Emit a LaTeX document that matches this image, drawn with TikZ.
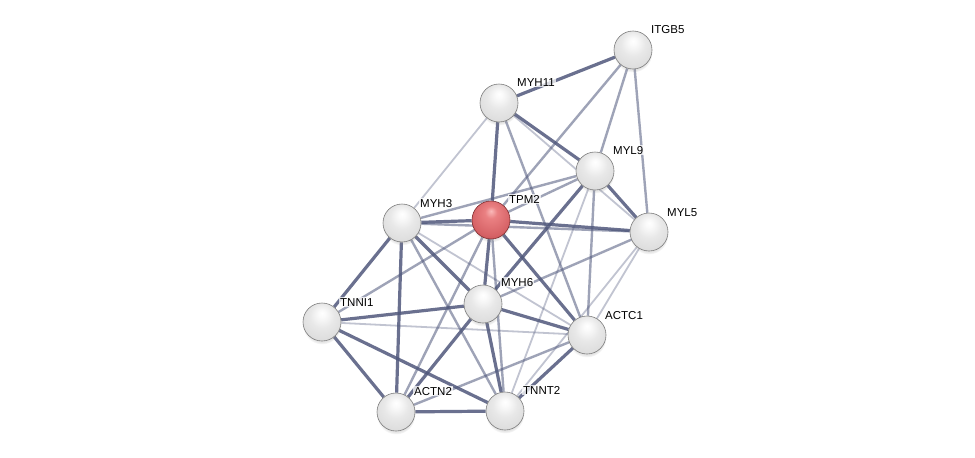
\documentclass[tikz,border=0pt]{standalone}
\usepackage{fontspec}
\setmainfont{Liberation Sans}
\usetikzlibrary{shadows}
\pgfdeclarelayer{bg}
\pgfsetlayers{bg,main}
\definecolor{edgec}{RGB}{80,88,124}
\definecolor{nodeline}{RGB}{125,125,125}
\definecolor{redA}{RGB}{250,185,185}
\definecolor{redB}{RGB}{234,128,130}
\definecolor{redC}{RGB}{214,98,102}
\definecolor{redD}{RGB}{178,64,68}
\pgfdeclareradialshading{stringball}{\pgfpoint{0bp}{12bp}}{%
  color(0bp)=(white); color(5bp)=(gray!4); color(16bp)=(gray!18);
  color(28bp)=(gray!26); color(38bp)=(gray!38); color(50bp)=(gray!58)}
\pgfdeclareradialshading{stringred}{\pgfpoint{0bp}{12bp}}{%
  color(0bp)=(redA); color(8bp)=(redB); color(26bp)=(redC);
  color(40bp)=(redD); color(50bp)=(redD!80!black)}
\tikzset{
  prot/.style={circle, minimum size=38pt, inner sep=0pt, draw=nodeline, line width=0.6pt,
    shading=stringball,
    circular drop shadow={shadow xshift=0pt, shadow yshift=-3pt, opacity=0.22, shadow scale=1.02}},
  query/.style={prot, shading=stringred, draw=redD!70!black},
  lab/.style={anchor=base west, inner sep=1pt, fill=white, fill opacity=0.75, text opacity=1,
    font=\fontsize{11.5}{12}\selectfont},
  strong/.style={draw=edgec, line width=3.2pt, draw opacity=0.85},
  medium/.style={draw=edgec, line width=2.4pt, draw opacity=0.55},
  weak/.style={draw=edgec, line width=1.8pt, draw opacity=0.35}
}
\begin{document}
\begin{tikzpicture}[x=1pt,y=-1pt]
\useasboundingbox (0,0) rectangle (975,458);
% nodes
\node[prot]  (ITGB5) at (633,50)  {};
\node[prot]  (MYH11) at (499,103) {};
\node[prot]  (MYL9)  at (595,171) {};
\node[query] (TPM2)  at (491,220) {};
\node[prot]  (MYH3)  at (402,223) {};
\node[prot]  (MYL5)  at (649,232) {};
\node[prot]  (MYH6)  at (483,304) {};
\node[prot]  (TNNI1) at (322,322) {};
\node[prot]  (ACTC1) at (587,335) {};
\node[prot]  (ACTN2) at (396,412) {};
\node[prot]  (TNNT2) at (505,411) {};
% labels
\node[lab] (lITGB5) at (650,33)  {ITGB5};
\node[lab] (lMYH11) at (516,86)  {MYH11};
\node[lab] (lMYL9)  at (612,154) {MYL9};
\node[lab] (lTPM2)  at (508,203) {TPM2};
\node[lab] (lMYH3)  at (419,207) {MYH3};
\node[lab] (lMYL5)  at (666,216) {MYL5};
\node[lab] (lMYH6)  at (500,286) {MYH6};
\node[lab] (lTNNI1) at (339,306) {TNNI1};
\node[lab] (lACTC1) at (604,319) {ACTC1};
\node[lab] (lACTN2) at (413,395) {ACTN2};
\node[lab] (lTNNT2) at (522,394) {TNNT2};
% edges
\begin{pgfonlayer}{bg}
\fill[white] (0,0) rectangle (975,458);
% weak
\draw[weak] (MYH11) -- (MYH3);
\draw[weak] (MYH3) -- (ACTC1);
\draw[weak] (TNNI1) -- (ACTC1);
\draw[weak] (MYL5) -- (ACTC1);
\draw[weak] (MYL5) -- (TNNT2);
\draw[weak] (MYL9) -- (TNNT2);
\draw[weak] (MYH11) -- (MYL5);
% medium
\draw[medium] (ITGB5) -- (TPM2);
\draw[medium] (ITGB5) -- (MYL9);
\draw[medium] (ITGB5) -- (MYL5);
\draw[medium] (MYH3) -- (MYL9);
\draw[medium] (TPM2) -- (MYL9);
\draw[medium] (MYH3) -- (TNNT2);
\draw[medium] (MYH6) -- (MYL5);
\draw[medium] (ACTN2) -- (TPM2);
\draw[medium] (ACTN2) -- (ACTC1);
\draw[medium] (TPM2) -- (TNNI1);
\draw[medium] (TPM2) -- (TNNT2);
\draw[medium] (MYH11) -- (ACTC1);
\draw[medium] (MYL9) -- (ACTC1);
\draw[medium] (MYH3) -- (MYL5);
% strong
\draw[strong] (ITGB5) -- (MYH11);
\draw[strong] (MYH11) -- (TPM2);
\draw[strong] (MYH11) -- (MYL9);
\draw[strong] (MYL9) -- (MYL5);
\draw[strong] (MYL9) -- (MYH6);
\draw[strong] (MYH3) -- (TPM2);
\draw[strong] (TPM2) -- (MYL5);
\draw[strong] (TPM2) -- (MYH6);
\draw[strong] (TPM2) -- (ACTC1);
\draw[strong] (MYH3) -- (TNNI1);
\draw[strong] (MYH3) -- (ACTN2);
\draw[strong] (MYH3) -- (MYH6);
\draw[strong] (TNNI1) -- (MYH6);
\draw[strong] (TNNI1) -- (ACTN2);
\draw[strong] (TNNI1) -- (TNNT2);
\draw[strong] (ACTN2) -- (TNNT2);
\draw[strong] (ACTN2) -- (MYH6);
\draw[strong] (MYH6) -- (TNNT2);
\draw[strong] (MYH6) -- (ACTC1);
\draw[strong] (TNNT2) -- (ACTC1);
\end{pgfonlayer}
\end{tikzpicture}
\end{document}
